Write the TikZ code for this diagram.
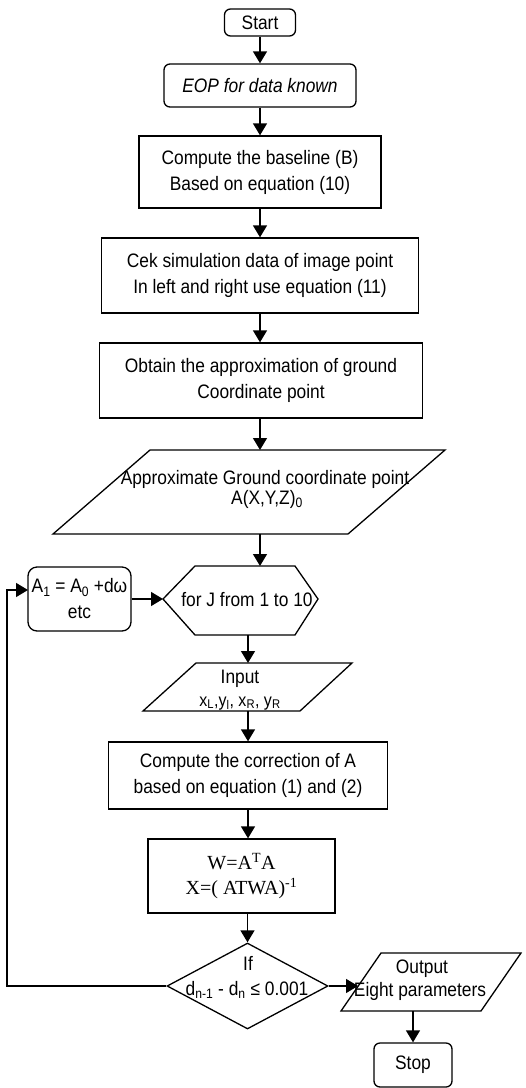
\documentclass[tikz,border=0pt]{standalone}
\usepackage{fontspec}
\setmainfont{Liberation Sans}[FakeStretch=0.89]
\newfontfamily\serifw{Liberation Serif}
\usetikzlibrary{arrows.meta,shapes.geometric}
\newcommand\fsz{\fontsize{19.5}{26}\selectfont}
\begin{document}
\begin{tikzpicture}[x=1pt,y=-1pt,
  every node/.style={font=\fsz},
  box/.style={draw, line width=1.3pt, rectangle, inner sep=0pt, align=center},
  rbox/.style={box, rounded corners=6pt},
  shp/.style={draw, line width=1.3pt, line join=miter},
  txt/.style={align=center, inner sep=0pt},
  arr/.style={line width=1.3pt, -{Triangle[length=12pt,width=14pt]}}
]
\useasboundingbox (0,0) rectangle (526,1088);

% upper column
\node[rbox, minimum width=71pt, minimum height=27pt] (start) at (260,22.5) {Start};
\node[rbox, minimum width=192pt, minimum height=43pt, font={\fsz\itshape}] (eop) at (260,85.5) {EOP for data known};
\node[box, minimum width=242pt, minimum height=72pt] (base) at (260,172) {Compute the baseline (B)\\Based on equation (10)};
\node[box, minimum width=317pt, minimum height=75pt] (cek) at (260,275.5) {Cek simulation data of image point\\In left and right use equation (11)};
\node[box, minimum width=323pt, minimum height=75pt] (obt) at (261,380.5) {Obtain the approximation of ground\\Coordinate point};

% approximate ground parallelogram
\draw[shp] (150,450) -- (445,450) -- (348,534) -- (53,534) -- cycle;
\coordinate (apprT) at (260,450);
\coordinate (apprB) at (260,534);
\node[txt, anchor=base] (appr1) at (265,484) {Approximate Ground coordinate point};
\node[txt, anchor=base] (appr2) at (267,504) {A(X,Y,Z)\textsubscript{0}};

% hexagon
\draw[shp] (163,599) -- (195,566) -- (295,566) -- (318,599) -- (295,635) -- (195,635) -- cycle;
\coordinate (hexT) at (260,566);
\coordinate (hexL) at (163,599);
\coordinate (hexB) at (248,635);
\node[txt] (hex) at (247,600) {for J from 1 to 10};

% A1 box
\node[rbox, rounded corners=9pt, minimum width=103pt, minimum height=64pt] (a1) at (79.5,599) {A\textsubscript{1} = A\textsubscript{0} +dω\\etc};
\coordinate (a1in) at (28,590);

% input parallelogram
\draw[shp] (196,663) -- (352,663) -- (300,711) -- (143,711) -- cycle;
\coordinate (inT) at (248,663);
\coordinate (inB) at (248,711);
\node[txt, anchor=base] (inp1) at (240,683) {Input};
\node[txt, anchor=base, font={\fontsize{18}{20}\selectfont}] (inp2) at (240,706) {x\textsubscript{L},y\textsubscript{l}, x\textsubscript{R}, y\textsubscript{R}};

% lower boxes
\node[box, minimum width=279pt, minimum height=67pt] (corr) at (248,775.5) {Compute the correction of A\\based on equation (1) and (2)};
\node[box, minimum width=187pt, minimum height=74pt, font={\serifw\fontsize{20}{25}\selectfont}] (wb) at (241.5,876) {W=A\textsuperscript{T}A\\X=( ATWA)\textsuperscript{-1}};

% decision
\node[diamond, draw, line width=1.3pt, minimum width=161pt, minimum height=86pt, inner sep=0pt] (dec) at (247.5,986) {};
\node[txt, anchor=base] (dec1) at (248,970) {If};
\node[txt, anchor=base] (dec2) at (247,995) {d\textsubscript{n-1} - d\textsubscript{n} ≤ 0.001};

% output parallelogram
\draw[shp] (381,953) -- (521,953) -- (481,1011) -- (341,1011) -- cycle;
\coordinate (outL) at (358,986);
\coordinate (outB) at (413,1011);
\node[txt, anchor=base] (out1) at (422,973) {Output};
\node[txt, anchor=base] (out2) at (420,996) {Eight parameters};

\node[rbox, minimum width=78pt, minimum height=44pt] (stop) at (413,1065) {Stop};

% connectors
\draw[arr] (start) -- (eop);
\draw[arr] (eop) -- (base);
\draw[arr] (base) -- (cek);
\draw[arr] (cek.south) -- (obt.north -| cek.south);
\draw[arr] (obt.south -| cek.south) -- (apprT);
\draw[arr] (apprB) -- (hexT);
\draw[arr] (a1.east) -- (hexL);
\draw[arr] (hexB) -- (inT);
\draw[arr] (inB) -- (corr.north -| inB);
\draw[arr] (corr.south -| inB) -- (wb.north -| inB);
\draw[arr] (wb.south -| dec.north) -- (dec.north);
\draw[arr] (dec.east) -- (outL);
\draw[arr] (outB) -- (stop);
\coordinate (loopc) at (7,986);
\draw[arr] (dec.west) -- (loopc) |- (a1in);
\end{tikzpicture}
\end{document}
